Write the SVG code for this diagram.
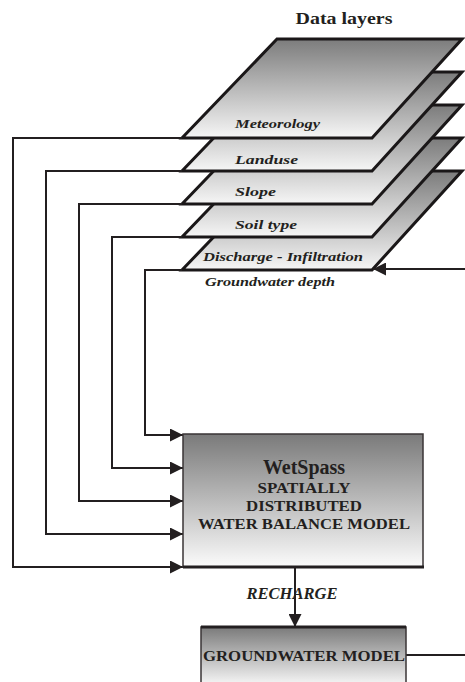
<svg xmlns="http://www.w3.org/2000/svg" width="465" height="682" viewBox="0 0 465 682">
<style>
.layer{stroke:#1a1718;stroke-width:3;stroke-linejoin:miter;fill:url(#lg)}
.conn{fill:none;stroke:#231f20;stroke-width:2}
.lbl{font-family:"Liberation Serif",serif;font-weight:bold;font-style:italic;font-size:13px;fill:#231f20}
.bx{font-family:"Liberation Serif",serif;font-weight:bold;fill:#231f20;text-anchor:middle}
.box{stroke:#3a3536;stroke-width:1.5}
</style>
<defs>
<linearGradient id="lg" x1="0" y1="0" x2="0" y2="1">
<stop offset="0" stop-color="#7c7c7c"/>
<stop offset="1" stop-color="#f6f6f6"/>
</linearGradient>
<linearGradient id="bg" x1="0" y1="0" x2="0" y2="1">
<stop offset="0" stop-color="#7a7a7a"/>
<stop offset="1" stop-color="#fbfbfb"/>
</linearGradient>
<marker id="ah" markerWidth="13" markerHeight="13" refX="13" refY="6.5" orient="auto" markerUnits="userSpaceOnUse">
<path d="M0,0 L13,6.5 L0,13 Z" fill="#231f20"/>
</marker>
</defs>
<text class="bx" x="344" y="24" font-size="17" textLength="97" lengthAdjust="spacingAndGlyphs">Data layers</text>
<g id="layer-discharge">
<polygon class="layer" points="277,171 462,171 372,270 182,270"/>
<text class="lbl" x="203" y="261" textLength="160" lengthAdjust="spacingAndGlyphs">Discharge - Infiltration</text>
</g>
<g id="layer-soil">
<polygon class="layer" points="277,138 462,138 372,237 182,237"/>
<text class="lbl" x="235" y="229" textLength="62" lengthAdjust="spacingAndGlyphs">Soil type</text>
</g>
<g id="layer-slope">
<polygon class="layer" points="277,105 462,105 372,204 182,204"/>
<text class="lbl" x="235" y="196" textLength="41" lengthAdjust="spacingAndGlyphs">Slope</text>
</g>
<g id="layer-landuse">
<polygon class="layer" points="277,72 462,72 372,171 182,171"/>
<text class="lbl" x="235" y="164" textLength="63" lengthAdjust="spacingAndGlyphs">Landuse</text>
</g>
<g id="layer-meteorology">
<polygon class="layer" points="277,39 462,39 372,138 182,138"/>
<text class="lbl" x="235" y="128" textLength="85" lengthAdjust="spacingAndGlyphs">Meteorology</text>
</g>
<g id="label-gwdepth">
<text class="lbl" x="205" y="286" font-weight="normal" textLength="130" lengthAdjust="spacingAndGlyphs">Groundwater depth</text>
</g>
<g id="connectors">
<polyline class="conn" points="182,138 13,138 13,567 183,567" marker-end="url(#ah)"/>
<polyline class="conn" points="182,171 46,171 46,534 183,534" marker-end="url(#ah)"/>
<polyline class="conn" points="182,204 79,204 79,501 183,501" marker-end="url(#ah)"/>
<polyline class="conn" points="182,237 112,237 112,468 183,468" marker-end="url(#ah)"/>
<polyline class="conn" points="182,270 145,270 145,435 183,435" marker-end="url(#ah)"/>
<line class="conn" x1="465" y1="269" x2="373" y2="269" marker-end="url(#ah)"/>
<line class="conn" x1="295" y1="567" x2="295" y2="627" stroke-width="3" marker-end="url(#ah)"/>
<line class="conn" x1="406" y1="655" x2="465" y2="655"/>
</g>
<g id="wetspass">
<rect class="box" x="183" y="434" width="240" height="133" fill="url(#bg)"/>
<line x1="183" y1="567" x2="424" y2="567" stroke="#231f20" stroke-width="3"/>
<text class="bx" x="304" y="474" font-size="20">WetSpass</text>
<text class="bx" x="304" y="493" font-size="15" textLength="93" lengthAdjust="spacingAndGlyphs">SPATIALLY</text>
<text class="bx" x="304" y="511" font-size="15" textLength="116" lengthAdjust="spacingAndGlyphs">DISTRIBUTED</text>
<text class="bx" x="304" y="529" font-size="15" textLength="212" lengthAdjust="spacingAndGlyphs">WATER BALANCE MODEL</text>
</g>
<g id="recharge-label">
<text class="bx" x="292" y="599" font-size="16" font-style="italic" textLength="91" lengthAdjust="spacingAndGlyphs">RECHARGE</text>
</g>
<g id="groundwater">
<rect class="box" x="201" y="627" width="205" height="60" fill="url(#bg)"/>
<line x1="201" y1="627" x2="406" y2="627" stroke="#231f20" stroke-width="3"/>
<text class="bx" x="304" y="661" font-size="15" textLength="202" lengthAdjust="spacingAndGlyphs">GROUNDWATER MODEL</text>
</g>
</svg>
